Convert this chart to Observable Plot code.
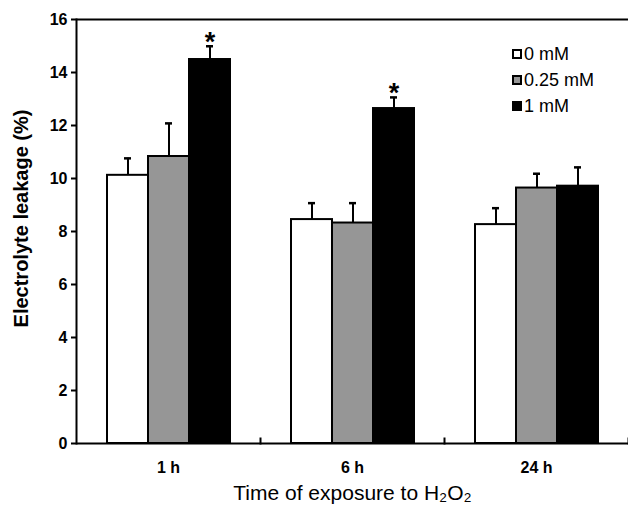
<!DOCTYPE html>
<html><head><meta charset="utf-8">
<script src="https://cdn.jsdelivr.net/npm/d3@7"></script>
<script src="https://cdn.jsdelivr.net/npm/@observablehq/plot@0.6"></script>
<style>
body{margin:0;background:#fff;}
#wrap{position:relative;width:628px;height:505px;overflow:hidden;font-family:"Liberation Sans",Arial,sans-serif;}
#legend{position:absolute;left:512px;top:41px;font-size:18px;color:#000;}
.row{display:flex;align-items:center;height:26px;}
.sw{width:10px;height:10px;border:2px solid #000;margin-right:2px;box-sizing:border-box;}
</style></head>
<body><div id="wrap"><div id="legend"></div></div>
<script>
const times = ["1 h", "6 h", "24 h"];
const doses = ["0 mM", "0.25 mM", "1 mM"];
const doseColors = ["#ffffff", "#969696", "#000000"];
const mean0 = [10.12, 8.45, 8.26];
const mean025 = [10.83, 8.32, 9.64];
const mean1 = [14.49, 12.64, 9.71];
const err0 = [0.64, 0.62, 0.62];
const err025 = [1.25, 0.75, 0.54];
const err1 = [0.50, 0.42, 0.71];
const starred = [["1 h", "1 mM"], ["6 h", "1 mM"]];
const yTicks = [0, 2, 4, 6, 8, 10, 12, 14, 16];
const yTitle = "Electrolyte leakage (%)";
const xTitle = "Time of exposure to H₂O₂";

const means = [mean0, mean025, mean1];
const errs = [err0, err025, err1];
const rows = [];
times.forEach((t, i) => doses.forEach((d, j) => rows.push({time: t, dose: d, mean: means[j][i], err: errs[j][i]})));
const stars = rows.filter(r => starred.some(([t, d]) => t === r.time && d === r.dose));

const font = '"Liberation Sans", Arial, sans-serif';
const chart = Plot.plot({
  width: 628, height: 505,
  marginLeft: 76, marginRight: 0, marginTop: 19, marginBottom: 62,
  style: {fontFamily: font, background: "white", color: "black"},
  fx: {domain: times, padding: 0, label: null},
  x: {domain: doses, paddingInner: 0, paddingOuter: 0.7, axis: null},
  y: {domain: [0, 16], axis: null},
  color: {domain: doses, range: doseColors},
  marks: [
    Plot.barY(rows, {fx: "time", x: "dose", y: "mean", fill: "dose", stroke: "black", strokeWidth: 2}),
    Plot.ruleX(rows, {fx: "time", x: "dose", y1: "mean", y2: d => d.mean + d.err, strokeWidth: 2}),
    Plot.tickY(rows, {fx: "time", x: "dose", y: d => d.mean + d.err, strokeWidth: 2.5, insetLeft: 17, insetRight: 17}),
    Plot.text(stars, {fx: "time", x: "dose", y: d => d.mean + d.err, text: () => "*", lineAnchor: "bottom", dy: 5, fontSize: 27, fontWeight: "bold"}),
    Plot.ruleY([0], {strokeWidth: 2}),
    Plot.ruleY([16], {strokeWidth: 2}),
    Plot.frame({anchor: "left", facetAnchor: "left", strokeWidth: 2}),
    Plot.frame({anchor: "right", insetTop: 419, strokeWidth: 2}),
    Plot.axisY({ticks: yTicks, tickSize: 5, tickPadding: 4, fontSize: 16, fontWeight: "bold", label: null, strokeWidth: 2}),
    Plot.text([yTitle], {text: d => d, frameAnchor: "left", facetAnchor: "left", rotate: -90, textAnchor: "middle", lineAnchor: "middle", dx: -55, dy: -13, fontSize: 20, fontWeight: "bold"}),
    Plot.axisFx({anchor: "bottom", tickSize: 0, tickPadding: 18, fontSize: 16, fontWeight: "bold", label: null}),
    Plot.axisFx({anchor: "bottom", ticks: [], tickSize: 0, label: xTitle, labelAnchor: "center", labelArrow: "none", labelOffset: 56, fontSize: 21})
  ]
});
document.getElementById("wrap").prepend(chart);

const legend = document.getElementById("legend");
doses.forEach((d, i) => {
  const row = document.createElement("div");
  row.className = "row";
  const sw = document.createElement("div");
  sw.className = "sw";
  sw.style.background = doseColors[i];
  const lab = document.createElement("span");
  lab.textContent = d;
  row.append(sw, lab);
  legend.append(row);
});
</script>
</body></html>
